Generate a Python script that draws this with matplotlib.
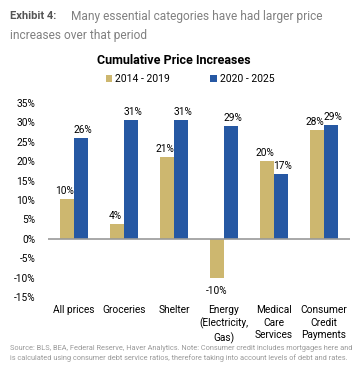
import numpy as np
import matplotlib.pyplot as plt

categories = ["All prices", "Groceries", "Shelter", "Energy\n(Electricity,\nGas)",
              "Medical\nCare\nServices", "Consumer\nCredit\nPayments"]
series_2014_2019 = [10.3, 3.7, 21.0, -10.0, 20.0, 28.0]
series_2020_2025 = [26.0, 30.5, 30.5, 29.0, 16.7, 29.3]
labels_2014_2019 = ["10%", "4%", "21%", "-10%", "20%", "28%"]
labels_2020_2025 = ["26%", "31%", "31%", "29%", "17%", "29%"]
y_ticks = [35, 30, 25, 20, 15, 10, 5, 0, -5, -10, -15]

GOLD = "#CDB76F"
BLUE = "#2658A3"
plt.rcParams['font.family'] = ['Roboto', 'DejaVu Sans']

fig = plt.figure(figsize=(3.55, 3.73), dpi=100)
ax = fig.add_axes([0.135, 0.204, 0.851, 0.52])

x = np.arange(len(categories))
w = 0.28
ax.bar(x - w / 2, series_2014_2019, w, color=GOLD, label="2014 - 2019")
ax.bar(x + w / 2, series_2020_2025, w, color=BLUE, label="2020 - 2025")

# value labels (nudged apart a little so the close pairs don't collide)
for xi, v, s in zip(x - w / 2, series_2014_2019, labels_2014_2019):
    if v >= 0:
        ax.text(xi - 0.04, v + 0.8, s, ha="center", va="bottom", fontsize=7.3)
    else:
        ax.text(xi, v - 2.2, s, ha="center", va="top", fontsize=7.3)
for xi, v, s in zip(x + w / 2, series_2020_2025, labels_2020_2025):
    ax.text(xi + 0.04, v + 0.8, s, ha="center", va="bottom", fontsize=7.3)

ax.axhline(0, color="#999999", lw=1.2)
ax.set_xlim(-0.52, 5.52)
ax.set_ylim(-15, 35)
ax.set_yticks(y_ticks)
ax.set_yticklabels([f"{t}%" for t in y_ticks], fontsize=7.3)
ax.set_xticks(x)
ax.set_xticklabels(categories, fontsize=7.3, linespacing=1.3, va="top")
ax.tick_params(length=0)
ax.tick_params(axis="x", pad=6)
ax.tick_params(axis="y", pad=9)
for sp in ax.spines.values():
    sp.set_visible(False)

# title and legend
fig.text(0.49, 0.838, "Cumulative Price Increases", ha="center", va="center",
         fontsize=9, fontweight="bold")
fig.legend(loc="center", bbox_to_anchor=(0.535, 0.788), ncol=2, frameon=False,
           prop={"size": 7.5}, handlelength=0.6, handleheight=0.6,
           columnspacing=3.9, handletextpad=0.3)

# header
fig.text(0.028, 0.957, "Exhibit 4:", fontsize=8, fontweight="bold", color="#555555", va="center")
fig.text(0.2, 0.957, "Many essential categories have had larger price", fontsize=8.6,
         color="#808080", va="center")
fig.text(0.028, 0.906, "increases over that period", fontsize=8.6, color="#808080", va="center")

# footer
fig.text(0.028, 0.052, "Source: BLS, BEA, Federal Reserve, Haver Analytics. Note: Consumer credit includes mortgages here and\n"
         "is calculated using consumer debt service ratios, therefore taking into account levels of debt and rates.",
         fontsize=5.3, color="#999999", va="center", linespacing=1.4)

fig.savefig("out.png", dpi=100)
